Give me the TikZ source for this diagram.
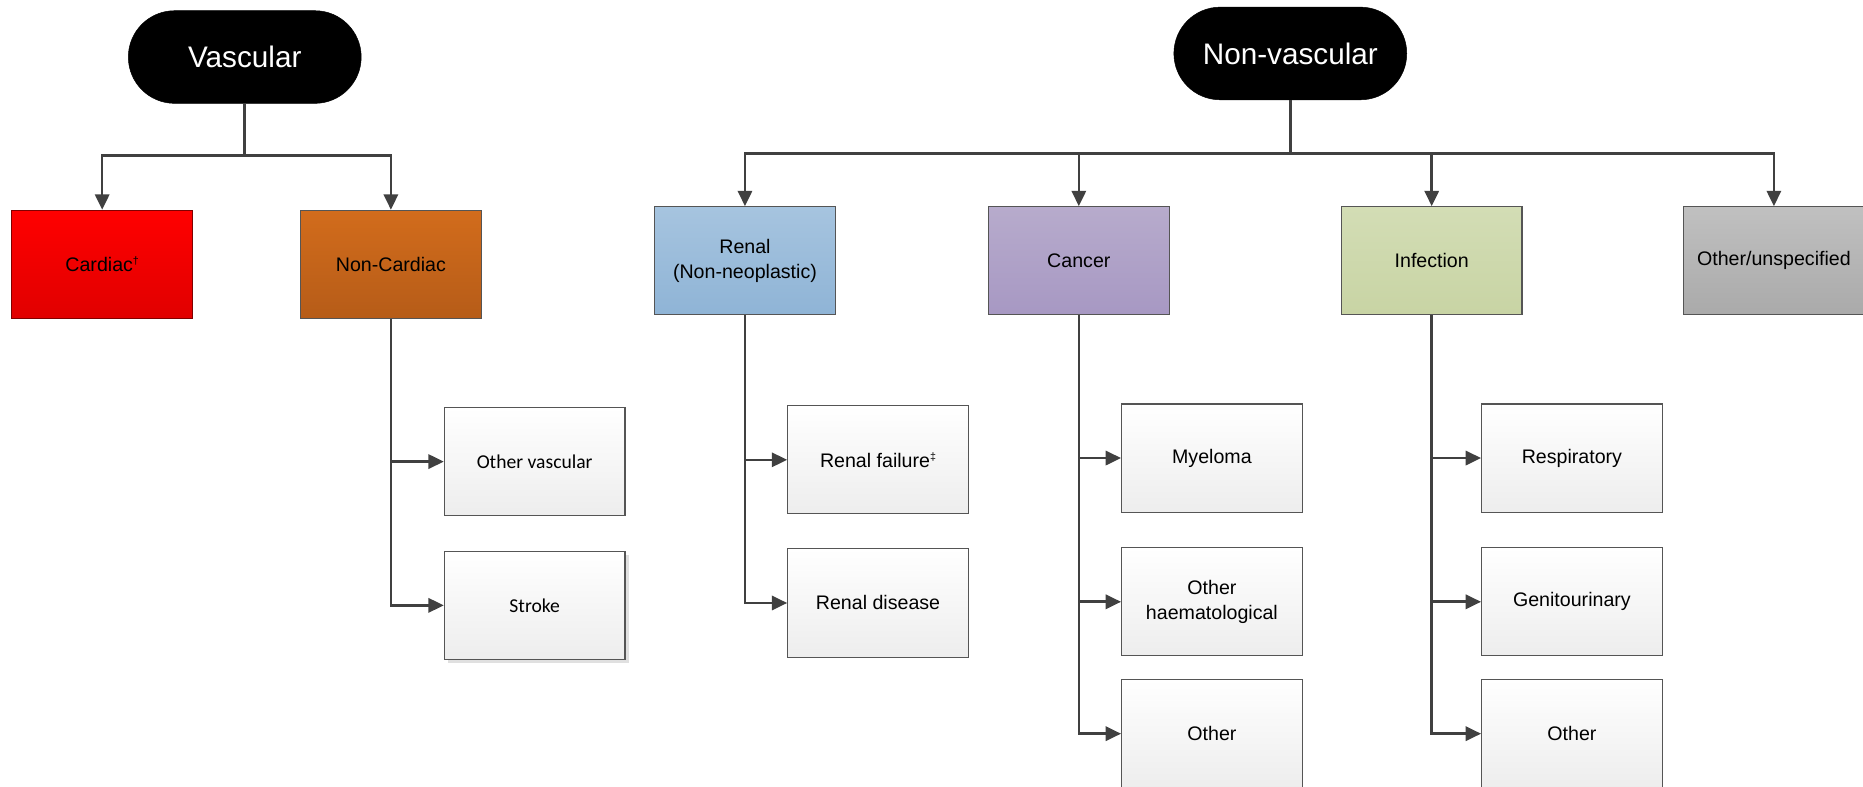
\documentclass[tikz,border=0pt]{standalone}
\usepackage{fontspec}
\setmainfont{Liberation Sans}
\newfontfamily\carlfont{Carlito}
\usetikzlibrary{arrows.meta,shadows}
\definecolor{lineg}{HTML}{404040}
\definecolor{bord}{HTML}{555555}
\newcommand{\supmark}[1]{\raisebox{6pt}{\fontsize{9}{9}\selectfont #1}}
\tikzset{
  pill/.style={fill=black, draw=black, rounded corners=39pt, minimum width=196pt, minimum height=78pt, inner sep=0pt, text=white, font=\fontsize{25}{29}\selectfont},
  cat/.style={draw=bord, line width=0.9pt, minimum width=152pt, minimum height=91pt, inner sep=0pt, align=center, font=\fontsize{16.5}{21}\selectfont, shading=axis},
  sub/.style={cat, top color=white, bottom color=black!7},
  conn/.style={draw=lineg, line width=2.2pt, -{Triangle[length=13pt,width=12pt]}}
}
\begin{document}
\begin{tikzpicture}[x=1pt,y=-1pt]
\useasboundingbox (0,0) rectangle (1568,662);
\clip (0,0) rectangle (1568,662);
% top level
\node[pill] (vasc) at (206,48) {Vascular};
\node[pill] (nvasc) at (1086,45) {Non-vascular};
% vascular categories
\node[cat, top color=red, bottom color=red!88!black, draw=red!50!black] (card) at (86,222.5) {Cardiac\supmark{†}};
\node[cat, top color={rgb,255:red,210;green,108;blue,28}, bottom color={rgb,255:red,182;green,92;blue,24}] (ncard) at (329,222.5) {Non-Cardiac};
\node[sub, font=\carlfont\fontsize{16.5}{21}\selectfont] (ovasc) at (450,388.5) {Other vascular};
\node[sub, font=\carlfont\fontsize{16.5}{21}\selectfont, drop shadow={shadow xshift=3pt, shadow yshift=-3pt, fill=black!12, opacity=1}] (stroke) at (450,509.5) {Stroke};
% non-vascular categories
\node[cat, top color={rgb,255:red,166;green,196;blue,223}, bottom color={rgb,255:red,143;green,180;blue,214}] (renal) at (627,219.5) {Renal\\(Non-neoplastic)};
\node[cat, top color={rgb,255:red,183;green,171;blue,204}, bottom color={rgb,255:red,167;green,152;blue,195}] (cancer) at (908,219.5) {Cancer};
\node[cat, top color={rgb,255:red,211;green,221;blue,181}, bottom color={rgb,255:red,200;green,212;blue,164}] (infect) at (1205,219.5) {Infection};
\node[cat, top color={rgb,255:red,192;green,192;blue,192}, bottom color={rgb,255:red,170;green,170;blue,170}] (other) at (1493,219.5) {Other/unspecified};
% renal subs
\node[sub] (rfail) at (739,387) {Renal failure\supmark{‡}};
\node[sub] (rdis) at (739,507.5) {Renal disease};
% cancer subs
\node[sub] (myel) at (1020,385.5) {Myeloma};
\node[sub] (ohaem) at (1020,506.5) {Other\\haematological};
\node[sub] (cother) at (1020,617.5) {Other};
% infection subs
\node[sub] (resp) at (1323,385.5) {Respiratory};
\node[sub] (genit) at (1323,506.5) {Genitourinary};
\node[sub] (iother) at (1323,617.5) {Other};
% buses
\coordinate (vbus) at (206,131);
\coordinate (nbus) at (1086,129);
\draw[conn] (vasc.south) -- (vbus) -| (card.north);
\draw[conn] (vasc.south) -- (vbus) -| (ncard.north);
\draw[conn] (nvasc.south) -- (nbus) -| (renal.north);
\draw[conn] (nvasc.south) -- (nbus) -| (cancer.north);
\draw[conn] (nvasc.south) -- (nbus) -| (infect.north);
\draw[conn] (nvasc.south) -- (nbus) -| (other.north);
% sub branches
\draw[conn] (ncard.south) |- (ovasc.west);
\draw[conn] (ncard.south) |- (stroke.west);
\draw[conn] (renal.south) |- (rfail.west);
\draw[conn] (renal.south) |- (rdis.west);
\draw[conn] (cancer.south) |- (myel.west);
\draw[conn] (cancer.south) |- (ohaem.west);
\draw[conn] (cancer.south) |- (cother.west);
\draw[conn] (infect.south) |- (resp.west);
\draw[conn] (infect.south) |- (genit.west);
\draw[conn] (infect.south) |- (iother.west);
\end{tikzpicture}
\end{document}
